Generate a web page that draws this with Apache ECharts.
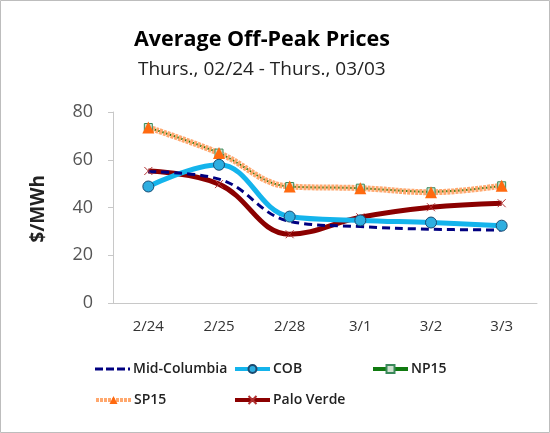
<!DOCTYPE html>
<html><head><meta charset="utf-8">
<script src="https://cdn.jsdelivr.net/npm/echarts@6/dist/echarts.min.js"></script>
<style>html,body{margin:0;padding:0;background:#fff}#c{width:550px;height:433px}</style>
</head><body><div id="c"></div>
<script>
var categories = ['2/24','2/25','2/28','3/1','3/2','3/3'];
var midColumbia = [55.0, 51.9, 34.2, 32.0, 30.9, 30.6];
var cob = [48.8, 57.9, 36.2, 34.6, 33.7, 32.4];
var np15 = [73.5, 62.8, 48.8, 48.1, 46.6, 49.1];
var sp15 = [73.5, 62.8, 48.8, 48.1, 46.4, 49.1];
var paloVerde = [55.3, 49.8, 28.8, 35.9, 40.1, 41.8];
var yTicks = [0, 20, 40, 60, 80];

var font = 'Open Sans';
var chart = echarts.init(document.getElementById('c'));
var legendBase = {itemWidth: 35, itemHeight: 10, lineStyle: {width: 4}, textStyle: {fontFamily: font, fontSize: 14, fontWeight: 600, color: '#222', padding: [0, 0, 0, -2]}, itemGap: 4};
chart.setOption({
  animation: false,
  title: [
    {text: 'Average Off-Peak Prices', left: 129, top: 24, textStyle: {fontFamily: font, fontWeight: 'bold', fontSize: 21.5, color: '#000'}},
    {text: 'Thurs., 02/24 - Thurs., 03/03', left: 133, top: 55, textStyle: {fontFamily: font, fontWeight: 'normal', fontSize: 19, color: '#222'}}
  ],
  graphic: [
    {type: 'rect', shape: {x: 0.5, y: 0.5, width: 549, height: 432}, style: {fill: 'none', stroke: '#bdbdbd', lineWidth: 1}},
    {type: 'text', left: 29, top: 175, rotation: Math.PI / 2, style: {text: '$/MWh', fontFamily: font, fontWeight: 'bold', fontSize: 19, fill: '#222'}}
  ],
  grid: {left: 113, right: 13, top: 112, bottom: 130},
  xAxis: {
    type: 'category', data: categories, boundaryGap: true,
    axisLine: {lineStyle: {color: '#c8c8c8'}},
    axisTick: {alignWithLabel: true, length: 5, lineStyle: {color: '#c8c8c8'}},
    axisLabel: {fontFamily: font, fontSize: 15, color: '#333', margin: 16}
  },
  yAxis: {
    type: 'value', min: yTicks[0], max: yTicks[yTicks.length - 1], interval: 20,
    axisLine: {show: true, lineStyle: {color: '#c8c8c8'}},
    axisTick: {show: true, length: 5, lineStyle: {color: '#c8c8c8'}},
    splitLine: {show: false},
    axisLabel: {fontFamily: font, fontSize: 18, color: '#555', margin: 20}
  },
  legend: [
    Object.assign({}, legendBase, {data: [{name: 'Mid-Columbia', icon: 'path://M0,0h8v3h-8zM11,0h8v3h-8zM22,0h8v3h-8zM33,0h2v3h-2z'}], left: 90, top: 357, itemHeight: 3}),
    Object.assign({data: ['COB'], left: 228, top: 357}, legendBase),
    Object.assign({data: ['NP15'], left: 366, top: 357}, legendBase),
    Object.assign({data: ['SP15'], left: 89, top: 388}, legendBase),
    Object.assign({data: ['Palo Verde'], left: 228, top: 388}, legendBase)
  ],
  series: [
    {name: 'NP15', type: 'line', data: np15, smooth: 0.4, symbol: 'rect', symbolSize: 8,
      lineStyle: {color: '#107a10', width: 2}, itemStyle: {color: '#cfe0cf', borderColor: '#3a8a5a', borderWidth: 1}},
    {name: 'SP15', type: 'line', data: sp15, smooth: 0.4, symbol: 'triangle', symbolSize: 12,
      lineStyle: {color: '#ffa86e', width: 6, type: [3, 1]}, itemStyle: {color: '#ff6a10', borderWidth: 0}},
    {name: 'Palo Verde', type: 'line', data: paloVerde, smooth: 0.4, symbol: 'path://M0,0L10,10M10,0L0,10', symbolSize: 8,
      lineStyle: {color: '#8b0000', width: 5}, itemStyle: {color: '#8b0000', borderColor: '#b03030', borderWidth: 1}},
    {name: 'COB', type: 'line', data: cob, smooth: 0.4, symbol: 'circle', symbolSize: 11,
      lineStyle: {color: '#14b4ec', width: 5}, itemStyle: {color: '#2eaee0', borderColor: '#1a4a70', borderWidth: 1}},
    {name: 'Mid-Columbia', type: 'line', data: midColumbia, smooth: 0.4, symbol: 'none', showSymbol: false,
      lineStyle: {color: '#000080', width: 3, type: [8, 5]}, itemStyle: {color: '#000080'}}
  ]
});
</script></body></html>
